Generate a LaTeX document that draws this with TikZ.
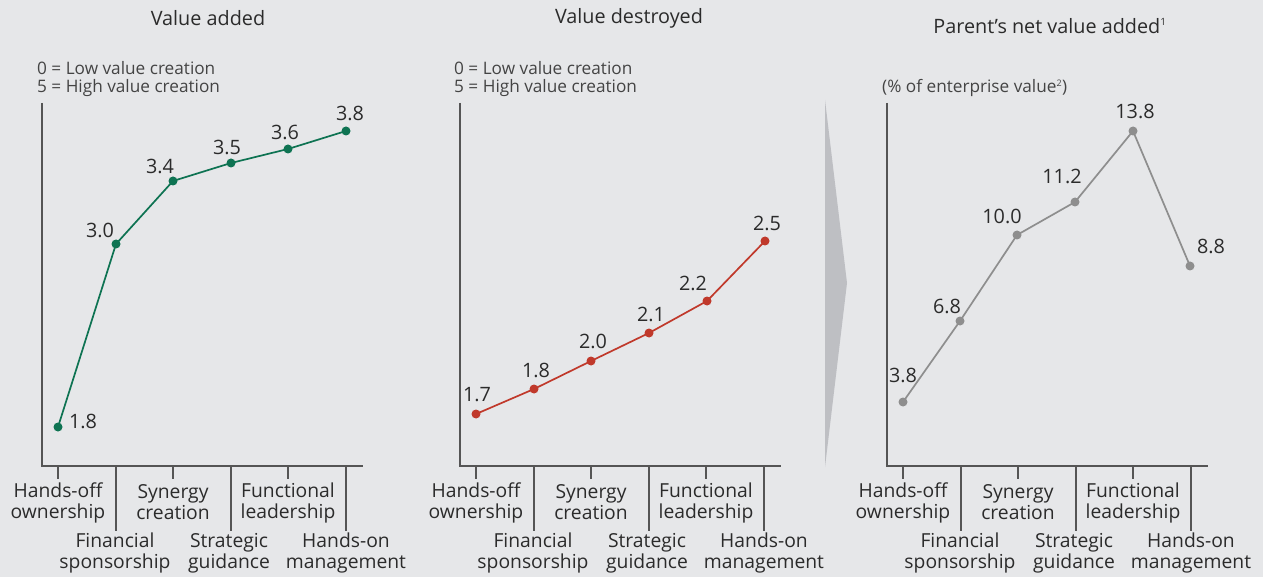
\documentclass[tikz,border=0pt]{standalone}
\usepackage{fontspec}
\setmainfont{Open Sans}
\definecolor{bg}{HTML}{E6E7E9}
\definecolor{txt}{HTML}{2B2B2B}
\definecolor{subtxt}{HTML}{444444}
\definecolor{axisc}{HTML}{555555}
\definecolor{greenc}{HTML}{0E7352}
\definecolor{redc}{HTML}{C0392B}
\definecolor{grayc}{HTML}{8E8E8E}
\definecolor{arrowc}{HTML}{BEBFC3}
\tikzset{
  axisline/.style={line width=1.8pt, draw=axisc},
  tickline/.style={line width=1.6pt, draw=axisc},
  lbl/.style={font=\fontsize{19.3}{21}\selectfont, text=txt, align=center, inner sep=0pt},
  val/.style={font=\fontsize{19.8}{20}\selectfont, text=txt, inner sep=0pt},
  ttl/.style={font=\fontsize{19.8}{20}\selectfont, text=txt, inner sep=0pt},
  sub/.style={font=\fontsize{17.2}{18}\selectfont, text=subtxt, align=left, inner sep=0pt, anchor=west},
  dot/.style={circle, inner sep=0pt, minimum size=9pt, fill=#1},
  series/.style={line width=1.7pt, draw=#1},
}
\newcommand\chartframe{%
  \draw[axisline] (42,103) -- (42,466) -- (363,466);
  \foreach \tx in {58,173,288} \draw[tickline] (\tx,466) -- (\tx,479);
  \foreach \tx in {116,231,346} \draw[tickline] (\tx,466) -- (\tx,531);
  \node[lbl] (l1) at (58,502.5) {Hands-off\\ownership};
  \node[lbl] (l3) at (173,502.5) {Synergy\\creation};
  \node[lbl] (l5) at (288,502.5) {Functional\\leadership};
  \node[lbl] (l2) at (115,553) {Financial\\sponsorship};
  \node[lbl] (l4) at (229,553) {Strategic\\guidance};
  \node[lbl] (l6) at (346,553) {Hands-on\\management};
}
\begin{document}
\begin{tikzpicture}[x=1pt,y=-1pt]
\fill[bg] (0,0) rectangle (1263,577);
\useasboundingbox (0,0) rectangle (1263,577);

% ---------- Chart 1: Value added ----------
\begin{scope}
  \chartframe
  \node[ttl] (t1) at (208,18) {Value added};
  \node[sub] (s1) at (37,79) {0 = Low value creation\\5 = High value creation};
  \node[dot=greenc] (a1) at (58,427) {};
  \node[dot=greenc] (a2) at (116,244) {};
  \node[dot=greenc] (a3) at (173,181) {};
  \node[dot=greenc] (a4) at (231,163) {};
  \node[dot=greenc] (a5) at (288,149) {};
  \node[dot=greenc] (a6) at (346,131) {};
  \draw[series=greenc] (a1.center) -- (a2.center) -- (a3.center) -- (a4.center) -- (a5.center) -- (a6.center);
  \node[val] (va1) at (83,421) {1.8};
  \node[val] (va2) at (100,230) {3.0};
  \node[val] (va3) at (160,166) {3.4};
  \node[val] (va4) at (227,147) {3.5};
  \node[val] (va5) at (285,132) {3.6};
  \node[val] (va6) at (350,113) {3.8};
\end{scope}

% ---------- Chart 2: Value destroyed ----------
\begin{scope}[xshift=418pt]
  \chartframe
  \node[ttl] (t2) at (211,18) {Value destroyed};
  \node[sub] (s2) at (36,79) {0 = Low value creation\\5 = High value creation};
  \node[dot=redc] (b1) at (58,414) {};
  \node[dot=redc] (b2) at (116,389) {};
  \node[dot=redc] (b3) at (173,361) {};
  \node[dot=redc] (b4) at (231,333) {};
  \node[dot=redc] (b5) at (289,301) {};
  \node[dot=redc] (b6) at (347,241) {};
  \draw[series=redc] (b1.center) -- (b2.center) -- (b3.center) -- (b4.center) -- (b5.center) -- (b6.center);
  \node[val] (vb1) at (59,395) {1.7};
  \node[val] (vb2) at (118,370) {1.8};
  \node[val] (vb3) at (175,341) {2.0};
  \node[val] (vb4) at (233,314) {2.1};
  \node[val] (vb5) at (275,283) {2.2};
  \node[val] (vb6) at (349,223) {2.5};
\end{scope}

% ---------- Arrow ----------
\fill[arrowc] (825,100) -- (847,283) -- (825,467) -- cycle;

% ---------- Chart 3: Parent's net value added ----------
\begin{scope}[xshift=845pt]
  \chartframe
  \node[ttl] (t3) at (205,26) {Parent’s net value added\textsuperscript{\fontsize{10}{10}\selectfont 1}};
  \node[sub] (s3) at (37,88) {(\% of enterprise value\textsuperscript{\fontsize{9}{9}\selectfont 2})};
  \node[dot=grayc] (c1) at (58,402) {};
  \node[dot=grayc] (c2) at (115,321) {};
  \node[dot=grayc] (c3) at (172,235) {};
  \node[dot=grayc] (c4) at (230,202) {};
  \node[dot=grayc] (c5) at (288,131) {};
  \node[dot=grayc] (c6) at (345,266) {};
  \draw[series=grayc] (c1.center) -- (c2.center) -- (c3.center) -- (c4.center) -- (c5.center) -- (c6.center);
  \node[val] (vc1) at (58,375) {3.8};
  \node[val] (vc2) at (102,306) {6.8};
  \node[val] (vc3) at (157,216) {10.0};
  \node[val] (vc4) at (217,176) {11.2};
  \node[val] (vc5) at (290,111) {13.8};
  \node[val] (vc6) at (366,246) {8.8};
\end{scope}
\end{tikzpicture}
\end{document}
